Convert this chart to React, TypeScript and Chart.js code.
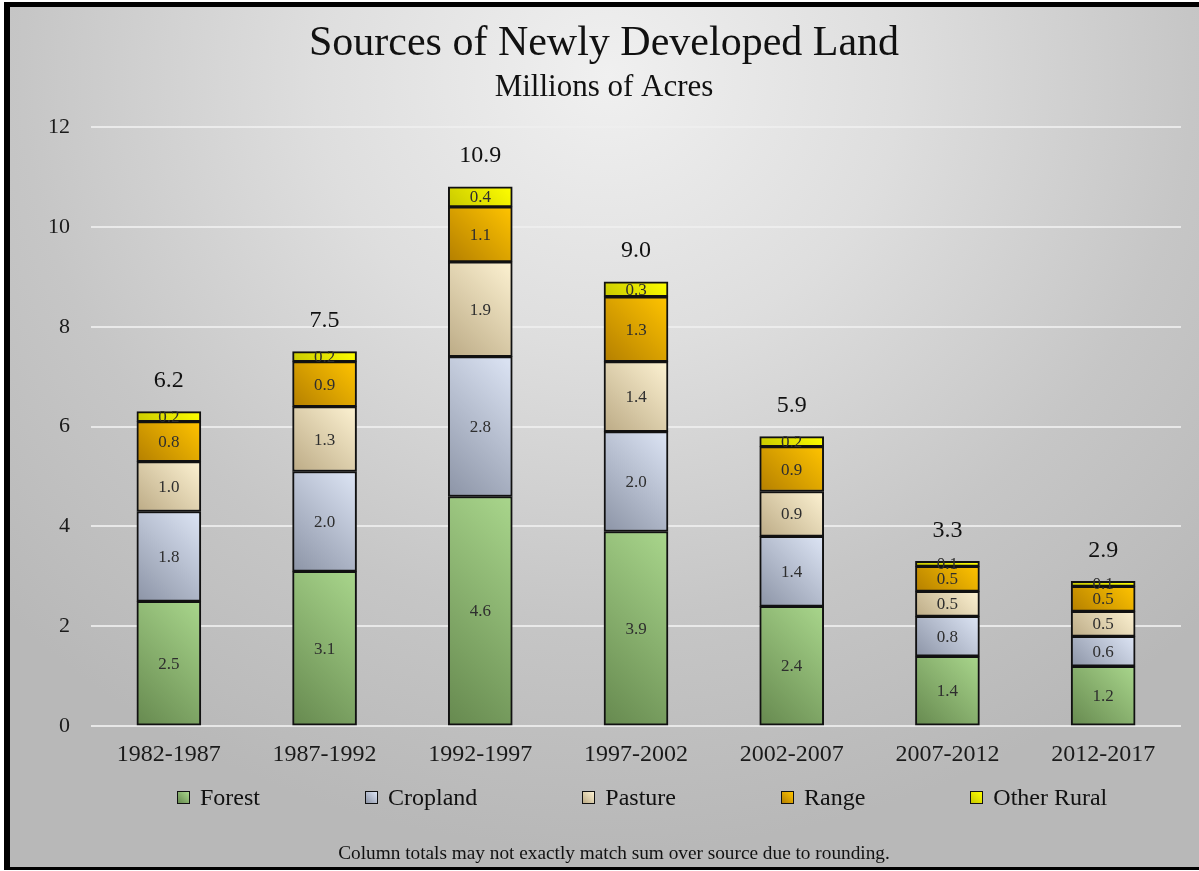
import React, { useEffect, useRef } from "react";
import { Chart, registerables } from "chart.js";

Chart.register(...registerables);

const categories = ["1982-1987", "1987-1992", "1992-1997", "1997-2002", "2002-2007", "2007-2012", "2012-2017"];
const forest = [2.5, 3.1, 4.6, 3.9, 2.4, 1.4, 1.2];
const cropland = [1.8, 2.0, 2.8, 2.0, 1.4, 0.8, 0.6];
const pasture = [1.0, 1.3, 1.9, 1.4, 0.9, 0.5, 0.5];
const range = [0.8, 0.9, 1.1, 1.3, 0.9, 0.5, 0.5];
const otherRural = [0.2, 0.2, 0.4, 0.3, 0.2, 0.1, 0.1];
const totals = [6.2, 7.5, 10.9, 9.0, 5.9, 3.3, 2.9];

const seriesNames = ["Forest", "Cropland", "Pasture", "Range", "Other Rural"];
const seriesDark = ["#66894f", "#8c94a6", "#bcab86", "#b47f00", "#c8c800"];
const seriesLight = ["#a9d68c", "#dde5f5", "#fdf2d2", "#ffc400", "#ffff00"];

const FONT = '"Liberation Serif", "Times New Roman", serif';
const BAR_W = 64;

function gradientFill(dark: string, light: string) {
  return (ctx: any) => {
    const chart = ctx.chart;
    const xs = chart.scales && chart.scales.x;
    const ys = chart.scales && chart.scales.y;
    if (!xs || !ys || ctx.type !== "data") return light;
    const i = ctx.dataIndex;
    const di = ctx.datasetIndex;
    let base = 0;
    for (let d = 0; d < di; d++) base += chart.data.datasets[d].data[i];
    const top = base + chart.data.datasets[di].data[i];
    const xc = xs.getPixelForValue(i);
    const y0 = ys.getPixelForValue(base);
    const y1 = ys.getPixelForValue(top);
    if (![xc, y0, y1].every((v) => isFinite(v))) return light;
    const h = Math.abs(y0 - y1);
    const L = (BAR_W + h) / 2;
    const x0 = xc - BAR_W / 2;
    const g = chart.ctx.createLinearGradient(x0, y0, x0 + L, y0 - L);
    g.addColorStop(0, dark);
    g.addColorStop(1, light);
    return g;
  };
}

const labelPlugin = {
  id: "valueLabels",
  afterDatasetsDraw(chart: any) {
    const ctx = chart.ctx;
    ctx.save();
    ctx.textAlign = "center";
    ctx.textBaseline = "middle";
    ctx.font = `17px ${FONT}`;
    ctx.fillStyle = "#2e2e2e";
    chart.data.datasets.forEach((ds: any, di: number) => {
      const meta = chart.getDatasetMeta(di);
      meta.data.forEach((el: any, i: number) => {
        ctx.fillText(Number(ds.data[i]).toFixed(1), el.x, (el.y + el.base) / 2 + 1);
      });
    });
    ctx.font = `24px ${FONT}`;
    ctx.fillStyle = "#111";
    const last = chart.getDatasetMeta(chart.data.datasets.length - 1);
    last.data.forEach((el: any, i: number) => {
      ctx.fillText(totals[i].toFixed(1), el.x, el.y - 31);
    });
    ctx.restore();
  },
};

export default function App() {
  const ref = useRef<HTMLCanvasElement>(null);

  useEffect(() => {
    if (!ref.current) return;
    const data = [forest, cropland, pasture, range, otherRural];
    const chart = new Chart(ref.current, {
      type: "bar",
      data: {
        labels: categories,
        datasets: data.map((d, k) => ({
          label: seriesNames[k],
          data: d,
          backgroundColor: gradientFill(seriesDark[k], seriesLight[k]),
          borderColor: "#111",
          borderWidth: 2,
          borderSkipped: false,
          barThickness: BAR_W,
        })),
      },
      options: {
        responsive: false,
        animation: false,
        devicePixelRatio: 1,
        layout: { padding: { left: 17, right: 18, top: 0, bottom: 84 } },
        plugins: {
          legend: { display: false },
          tooltip: { enabled: false },
          title: {
            display: true,
            text: "Sources of Newly Developed Land",
            color: "#111",
            font: { family: FONT, size: 42, weight: "normal" },
            padding: { top: 12, bottom: 0 },
          },
          subtitle: {
            display: true,
            text: "Millions of Acres",
            color: "#111",
            font: { family: FONT, size: 31, weight: "normal" },
            padding: { top: 0, bottom: 20.4 },
          },
        },
        scales: {
          x: {
            stacked: true,
            grid: { display: false, drawTicks: false },
            border: { display: false },
            ticks: { color: "#1a1a1a", font: { family: FONT, size: 24 }, padding: 14 },
          },
          y: {
            stacked: true,
            min: 0,
            max: 12,
            grid: { color: "rgba(238,238,238,0.85)", lineWidth: 2, drawTicks: false },
            border: { display: false },
            ticks: { stepSize: 2, color: "#1a1a1a", font: { family: FONT, size: 22 }, padding: 21 },
          },
        },
      },
      plugins: [labelPlugin],
    });
    return () => chart.destroy();
  }, []);

  return (
    <div
      style={{
        position: "fixed",
        left: 0,
        top: 0,
        width: 1199,
        height: 871,
        overflow: "hidden",
        background: "#ffffff",
      }}
    >
      <div
        style={{
          position: "absolute",
          left: 4,
          top: 2,
          width: 1195,
          height: 860,
          borderLeft: "6px solid #000",
          borderTop: "5px solid #000",
          borderBottom: "3px solid #000",
          background:
            "radial-gradient(ellipse 70% 90% at 50% 8%, #f0f0f0 0%, #dedede 35%, #c6c6c6 70%, #b8b8b8 100%)",
        }}
      >
        <canvas ref={ref} width={1189} height={860} style={{ position: "absolute", left: 0, top: 0 }} />
        <div
          style={{
            position: "absolute",
            left: 167,
            top: 777,
            display: "flex",
            alignItems: "center",
            gap: 105,
            fontFamily: FONT,
            fontSize: 24,
            color: "#111",
            whiteSpace: "nowrap",
          }}
        >
          {seriesNames.map((n, k) => (
            <div key={n} style={{ display: "flex", alignItems: "center" }}>
              <span
                style={{
                  display: "inline-block",
                  width: 11,
                  height: 11,
                  border: "1.5px solid #111",
                  background: `linear-gradient(45deg, ${seriesDark[k]}, ${seriesLight[k]})`,
                  marginRight: 10,
                }}
              />
              <span>{n}</span>
            </div>
          ))}
        </div>
        <div
          style={{
            position: "absolute",
            left: 0,
            width: 1208,
            top: 835,
            textAlign: "center",
            fontFamily: FONT,
            fontSize: 19.3,
            color: "#111",
            whiteSpace: "nowrap",
          }}
        >
          Column totals may not exactly match sum over source due to rounding.
        </div>
      </div>
    </div>
  );
}
